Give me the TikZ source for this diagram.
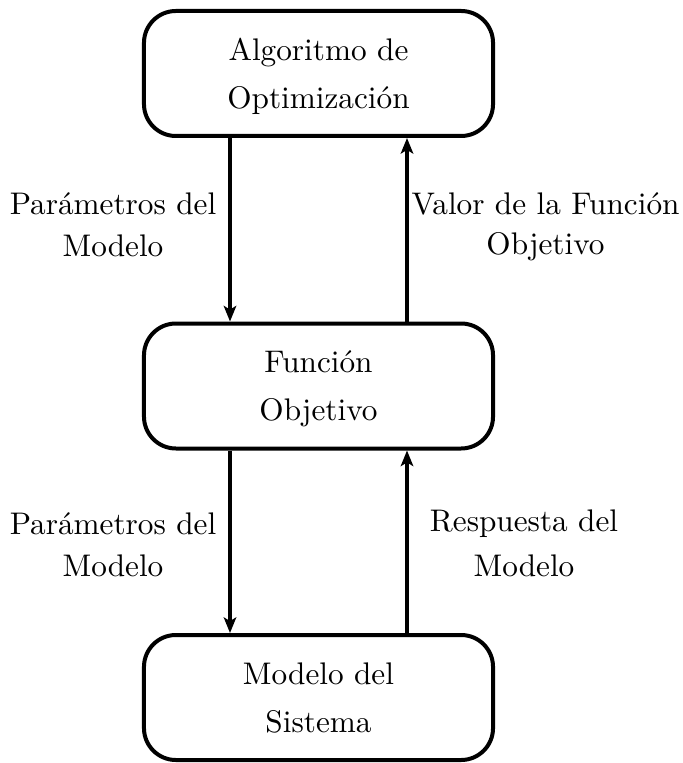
\documentclass[tikz,border=0pt]{standalone}
\usetikzlibrary{arrows.meta}
\begin{document}
\begin{tikzpicture}[x=0.32pt,y=-0.32pt,
  box/.style={draw, line width=1.28pt, rounded corners=10.2pt, minimum width=111.7pt,
    minimum height=40pt, align=center, inner sep=0pt},
  lbl/.style={align=center, inner sep=0pt},
  arr/.style={line width=1.2pt, -{Stealth[length=5pt,width=4pt,inset=1.2pt]}}]
\useasboundingbox (0,0) rectangle (682,763);
\node[box, text depth=-1.2pt] (opt) at (318.5,73.5) {Algoritmo de\\[3.4pt]Optimización};
\node[box, text depth=-0.6pt] (fun) at (318.5,386) {Función\\[3.4pt]Objetivo};
\node[box, text depth=-1.9pt] (mod) at (318.5,697.5) {Modelo del\\[3.4pt]Sistema};
\coordinate (xl) at (230,0);
\coordinate (xr) at (407,0);
\draw[arr] (opt.south -| xl) -- (fun.north -| xl);
\draw[arr] (fun.north -| xr) -- (opt.south -| xr);
\draw[arr] (fun.south -| xl) -- (mod.north -| xl);
\draw[arr] (mod.north -| xr) -- (fun.south -| xr);
\node[lbl] (l1) at (113,225) {Parámetros del\\[1.4pt]Modelo};
\node[lbl] (r1) at (545.5,227) {Valor de la Función\\[0.7pt]Objetivo};
\node[lbl] (l2) at (113,545) {Parámetros del\\[1.4pt]Modelo};
\node[lbl] (r2) at (524,543.5) {Respuesta del\\[2.3pt]Modelo};
\end{tikzpicture}
\end{document}
